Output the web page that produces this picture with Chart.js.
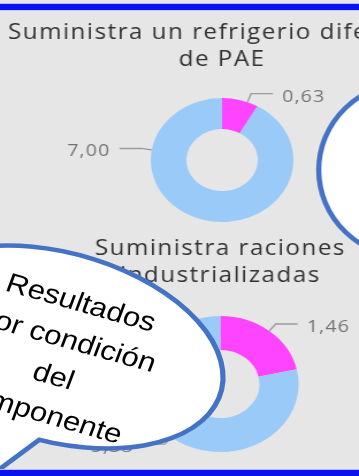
<!DOCTYPE html>
<html lang="es">
<head>
<meta charset="utf-8">
<title>Refrigerio y raciones</title>
<script src="https://cdn.jsdelivr.net/npm/chart.js@4/dist/chart.umd.min.js"></script>
<style>
  html, body { margin: 0; padding: 0; }
  body { width: 359px; height: 476px; overflow: hidden; position: relative; background: #e6e6e6; }
  #lienzo { position: absolute; left: 0; top: 0; width: 390px; height: 476px; transform-origin: 0 0; transform: scaleX(1.1506); }
  #lienzo canvas { position: absolute; left: 0; }
  #c1 { top: 0; }
  #c2 { top: 235px; }
  #globos { position: absolute; left: 0; top: 0; overflow: visible; }
  .franja { position: absolute; left: 0; width: 359px; background: #0b12f2; }
  #franjaSup { top: 4px; height: 6px; box-shadow: 0 -1px 0 #b9bdf7, 0 1px 0 #c6c8ee; }
  #franjaInf { top: 470px; height: 6px; box-shadow: 0 -1px 0 #b9bdf7; }
</style>
</head>
<body>
<div id="lienzo">
  <canvas id="c1" width="386" height="235"></canvas>
  <canvas id="c2" width="383" height="241"></canvas>
  <svg id="globos" width="312" height="476" viewBox="0 0 312 476">
    <!-- bocadillo izquierdo: contorno grueso primero y relleno encima -->
    <g fill="none" stroke="#4472c4" stroke-width="9" stroke-linejoin="round">
      <ellipse cx="50" cy="347" rx="147" ry="91" transform="rotate(20 50 347)"/>
      <polygon points="35,436 -40,500 -30,402"/>
    </g>
    <g fill="#ffffff">
      <ellipse cx="50" cy="347" rx="147" ry="91" transform="rotate(20 50 347)"/>
      <polygon points="35,436 -40,500 -30,402"/>
    </g>
    <g transform="rotate(18 53 356.5)" font-family="'Liberation Sans', Arial, sans-serif" font-size="27" text-anchor="middle" fill="#000">
      <text x="53" y="308.75">Resultados</text>
      <text x="53" y="347.25">por condición</text>
      <text x="53" y="385.75">del</text>
      <text x="53" y="424.25">componente</text>
    </g>
    <!-- bocadillo derecho -->
    <ellipse cx="357" cy="170" rx="80" ry="88" fill="#ffffff" stroke="#4472c4" stroke-width="4.5"/>
  </svg>
</div>
<div id="franjaSup" class="franja"></div>
<div id="franjaInf" class="franja"></div>

<script>
// valores de cada anillo (primero el segmento rosado)
const categorias = ['Sí', 'No'];
const refrigerioValores = [0.63, 7.00];
const racionesValores = [1.46, 5.33];
const coloresSegmento = ['#ff44ff', '#9acaf7'];

const tituloRefrigerio = ['Suministra un refrigerio diferente', 'de PAE'];
const tituloRaciones = ['Suministra raciones', 'industrializadas'];

function formato(v) {
  return v.toFixed(2).replace('.', ',');
}

// espaciado entre letras para los títulos
const espaciado = {
  id: 'espaciado',
  beforeDraw(chart) { chart.ctx.letterSpacing = '1.3px'; },
  afterDraw(chart) { chart.ctx.letterSpacing = '0px'; }
};

// etiquetas con línea guía fuera del anillo
const etiquetasGuia = {
  id: 'etiquetasGuia',
  afterDatasetsDraw(chart, args, opts) {
    const ctx = chart.ctx;
    const meta = chart.getDatasetMeta(0);
    const valores = chart.data.datasets[0].data;
    ctx.save();
    ctx.font = '17px "Open Sans"';
    ctx.letterSpacing = '1px';
    ctx.textBaseline = 'middle';
    ctx.strokeStyle = '#9a9a9a';
    ctx.lineWidth = 1.3;
    ctx.fillStyle = '#737373';
    meta.data.forEach((arco, i) => {
      const p = arco.getProps(['x', 'y', 'startAngle', 'endAngle', 'outerRadius'], true);
      const f = opts.posicion && opts.posicion[i] != null ? opts.posicion[i] : 0.5;
      const a = p.startAngle + (p.endAngle - p.startAngle) * f;
      const cos = Math.cos(a), sin = Math.sin(a);
      const ax = p.x + cos * p.outerRadius, ay = p.y + sin * p.outerRadius;
      const bx = ax + cos * 9, by = ay + sin * 9;
      const lado = cos >= 0 ? 1 : -1;
      const cx = bx + lado * 19;
      ctx.beginPath();
      ctx.moveTo(ax, ay);
      ctx.lineTo(bx, by);
      ctx.lineTo(cx, by);
      ctx.stroke();
      ctx.textAlign = lado > 0 ? 'left' : 'right';
      ctx.fillText(formato(valores[i]), cx + lado * 8, by + 3);
    });
    ctx.restore();
  }
};

function crearAnillo(canvas, titulo, valores, radio, padTitulo, padAbajo, posicion) {
  return new Chart(canvas, {
    type: 'doughnut',
    data: {
      labels: categorias,
      datasets: [{
        data: valores,
        backgroundColor: coloresSegmento,
        borderWidth: 0,
        hoverOffset: 0
      }]
    },
    options: {
      responsive: false,
      animation: false,
      radius: radio,
      cutout: '50%',
      layout: { padding: { top: 0, bottom: padAbajo, left: 0, right: 0 } },
      plugins: {
        legend: { display: false },
        tooltip: { enabled: false },
        title: {
          display: true,
          text: titulo,
          color: '#333333',
          font: { family: '"Open Sans"', size: 21, weight: 'normal', lineHeight: 1.29 },
          padding: padTitulo
        },
        etiquetasGuia: { posicion: posicion }
      }
    },
    plugins: [espaciado, etiquetasGuia]
  });
}

crearAnillo(document.getElementById('c1'), tituloRefrigerio, refrigerioValores, 62,
  { top: 19, bottom: 12 }, 0, [0.7, 0.756]);
crearAnillo(document.getElementById('c2'), tituloRaciones, racionesValores, 68,
  { top: 0, bottom: 6 }, 3, [0.5, 0.5]);
</script>
</body>
</html>
